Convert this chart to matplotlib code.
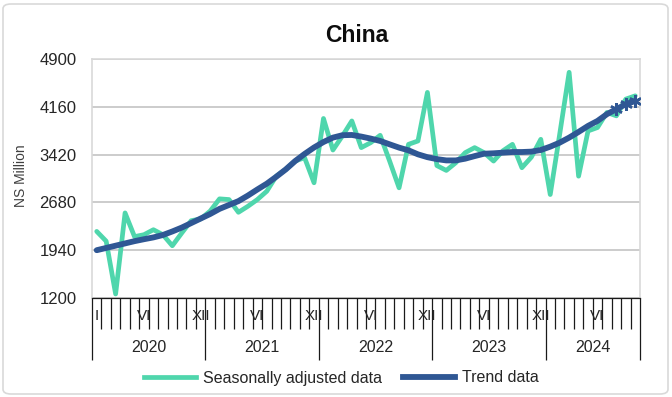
import numpy as np
import matplotlib
matplotlib.use("Agg")
import matplotlib.pyplot as plt
from matplotlib.lines import Line2D
from matplotlib.patches import FancyBboxPatch

plt.rcParams['font.family'] = ['Liberation Sans', 'DejaVu Sans']

# Monthly series, January 2020 – October 2024 (NS Million)
years = [2020, 2021, 2022, 2023, 2024]
months_per_year = [12, 12, 12, 12, 10]

seasonally_adjusted = [
    2231, 2080, 1262, 2517, 2150, 2180, 2257, 2180, 2009, 2206, 2397, 2424,
    2545, 2735, 2724, 2527, 2620, 2724, 2853, 3086, 3190, 3320, 3372, 2984,
    3979, 3491, 3708, 3941, 3528, 3605, 3719, 3320, 2906, 3579, 3631, 4383,
    3250, 3175, 3294, 3450, 3528, 3450, 3320, 3480, 3579, 3217, 3380, 3657,
    2802, 3735, 4694, 3086, 3786, 3839, 4072, 4020, 4279, 4330,
]
trend = [
    1940, 1975, 2010, 2045, 2080, 2110, 2138, 2175, 2230, 2290, 2360, 2430,
    2500, 2580, 2640, 2700, 2786, 2880, 2970, 3077, 3190, 3320, 3430, 3530,
    3615, 3683, 3720, 3724, 3699, 3668, 3631, 3579, 3528, 3486, 3424, 3380,
    3350, 3330, 3330, 3357, 3397, 3434, 3440, 3450, 3460, 3460, 3466, 3491,
    3543, 3605, 3683, 3771, 3864, 3941, 4046, 4123, 4201, 4253,
]
# last three trend values are provisional (drawn with markers)
provisional = [55, 56, 57]

month_numerals = ["I", "II", "III", "IV", "V", "VI",
                  "VII", "VIII", "IX", "X", "XI", "XII"]
shown_months = {"VI", "XII"}

y_ticks = [1200, 1940, 2680, 3420, 4160, 4900]

green = "#4fd6ac"
blue = "#2f5794"

n = len(seasonally_adjusted)
x = np.arange(n) + 0.5

W, H = 672, 397
fig = plt.figure(figsize=(W / 100, H / 100), dpi=100)

# outer rounded frame
fig.patches.append(FancyBboxPatch((3 / W, 3 / H), 665 / W, 390 / H,
                                  boxstyle="round,pad=0,rounding_size=0.012",
                                  transform=fig.transFigure, facecolor="none",
                                  edgecolor="#d9d9d9", lw=1.2, zorder=-1))

left, right, top, bottom = 92, 640, 59, 298
ax = fig.add_axes([left / W, 1 - bottom / H, (right - left) / W, (bottom - top) / H])
ax.set_facecolor("none")

ax.plot(x, seasonally_adjusted, color=green, lw=3.4, solid_joinstyle="round",
        solid_capstyle="round", zorder=3)
ax.plot(x, trend, color=blue, lw=4.2, solid_joinstyle="round",
        solid_capstyle="round", marker=(6, 2, 0), markevery=provisional,
        markersize=9, markeredgewidth=1.8, markeredgecolor=blue, zorder=4)

ax.set_xlim(0, n)
ax.set_ylim(y_ticks[0], y_ticks[-1])
ax.set_yticks(y_ticks)
ax.set_yticklabels([str(v) for v in y_ticks], fontsize=12, color="#262626")
ax.tick_params(axis="y", length=0, pad=11)
ax.grid(axis="y", color="#bfbfbf", lw=1.1)

# category axis: month boundaries (minor) and year boundaries (major)
year_edges = np.concatenate([[0], np.cumsum(months_per_year)])
ax.set_xticks(year_edges)
ax.set_xticks(np.arange(n + 1), minor=True)
ax.tick_params(axis="x", which="major", length=44.5, width=0.9, color="#1a1a1a",
               labelbottom=False)
ax.tick_params(axis="x", which="minor", length=22.5, width=0.9, color="#1a1a1a",
               labelbottom=False)

for spine in ("left", "top", "right"):
    ax.spines[spine].set_color("#d9d9d9")
    ax.spines[spine].set_linewidth(1.2)
ax.spines["bottom"].set_color("#1a1a1a")
ax.spines["bottom"].set_linewidth(0.9)

# month labels
i = 0
for yi, (yr, m) in enumerate(zip(years, months_per_year)):
    for k in range(m):
        lab = month_numerals[k]
        if (yi == 0 and k == 0) or lab in shown_months:
            ax.annotate(lab, xy=(i + 0.5, 0), xycoords=("data", "axes fraction"),
                        xytext=(0, -13.3), textcoords="offset points",
                        ha="center", va="center", fontsize=11, color="#262626")
        i += 1

# year labels
for yr, a, b in zip(years, year_edges[:-1], year_edges[1:]):
    ax.annotate(str(yr), xy=((a + b) / 2, 0), xycoords=("data", "axes fraction"),
                xytext=(0, -36), textcoords="offset points",
                ha="center", va="center", fontsize=11.5, color="#262626")

fig.text(357 / W, 1 - 36 / H, "China", fontsize=16.5, fontweight="bold",
         ha="center", va="center", color="#0d0d0d")
fig.text(21 / W, 1 - 176 / H, "NS Million", rotation=90, fontsize=10,
         ha="center", va="center", color="#404040")

handles = [Line2D([], [], color=green, lw=3.4),
           Line2D([], [], color=blue, lw=4.2)]
fig.legend(handles, ["Seasonally adjusted data", "Trend data"],
           loc="center", bbox_to_anchor=(341 / W, 1 - 378 / H), ncol=2,
           frameon=False, fontsize=11.5, handlelength=3.3, handletextpad=0.4,
           columnspacing=1.3, labelcolor="#262626")

fig.savefig("out.png", dpi=100)
